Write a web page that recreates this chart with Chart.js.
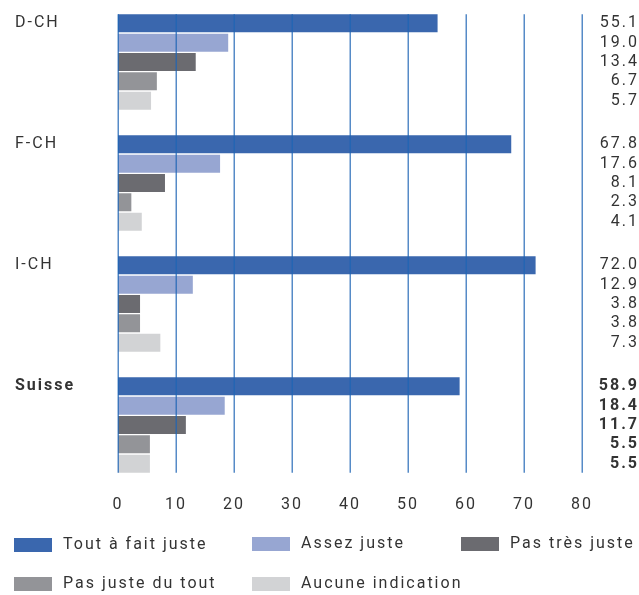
<!DOCTYPE html>
<html>
<head>
<meta charset="utf-8">
<script src="https://cdn.jsdelivr.net/npm/chart.js@4/dist/chart.umd.min.js"></script>
<style>
  html, body { margin: 0; padding: 0; background: #fff; }
  #wrap { position: relative; width: 639px; height: 595px; }
</style>
</head>
<body>
<div id="wrap"><canvas id="c" width="639" height="595"></canvas></div>
<script>
const regions = ["D-CH", "F-CH", "I-CH", "Suisse"];
const seriesNames = ["Tout à fait juste", "Assez juste", "Pas très juste", "Pas juste du tout", "Aucune indication"];
const toutAFait = [55.1, 67.8, 72.0, 58.9];
const assezJuste = [19.0, 17.6, 12.9, 18.4];
const pasTresJuste = [13.4, 8.1, 3.8, 11.7];
const pasJusteDuTout = [6.7, 2.3, 3.8, 5.5];
const aucuneIndication = [5.7, 4.1, 7.3, 5.5];
const xTicks = [0, 10, 20, 30, 40, 50, 60, 70, 80];

const colors = ["#3a67ae", "#97a6d2", "#6b6b70", "#939498", "#d2d3d5"];
const FONT = "Roboto, 'DejaVu Sans', sans-serif";
const TEXT = "#333333";
const SPACING = "2px";
const AXIS_HEIGHT = 40;

const seriesValues = [toutAFait, assezJuste, pasTresJuste, pasJusteDuTout, aucuneIndication];

// grid lines over the bars, group names, value column and legend
const decorations = {
  id: "decorations",
  beforeDraw(chart) {
    // wide tracking for every label, axis ticks included
    chart.ctx.letterSpacing = SPACING;
  },
  afterDatasetsDraw(chart) {
    const ctx = chart.ctx;
    const x = chart.scales.x;
    const first = chart.getDatasetMeta(0).data[0];
    const last = chart.getDatasetMeta(4).data[regions.length - 1];
    const top = first.y - first.height / 2;
    const bottom = last.y + last.height / 2;
    ctx.save();
    ctx.strokeStyle = "rgba(30, 100, 180, 0.75)";
    ctx.lineWidth = 1.5;
    xTicks.forEach(t => {
      const px = Math.round(x.getPixelForValue(t)) + 0.25;
      ctx.beginPath();
      ctx.moveTo(px, top);
      ctx.lineTo(px, bottom);
      ctx.stroke();
    });
    ctx.restore();
  },
  afterDraw(chart) {
    const ctx = chart.ctx;
    ctx.save();
    ctx.fillStyle = TEXT;
    ctx.letterSpacing = SPACING;
    ctx.textBaseline = "middle";

    // region names, aligned with the first bar of each group
    const meta0 = chart.getDatasetMeta(0);
    regions.forEach((r, j) => {
      const bar = meta0.data[j];
      ctx.font = (j === regions.length - 1 ? "bold " : "") + "16px " + FONT;
      ctx.textAlign = "left";
      ctx.fillText(r, 15, bar.y);
    });

    // value column on the right
    ctx.textAlign = "right";
    seriesValues.forEach((vals, i) => {
      const meta = chart.getDatasetMeta(i);
      vals.forEach((v, j) => {
        ctx.font = (j === regions.length - 1 ? "bold " : "") + "16px " + FONT;
        ctx.fillText(v.toFixed(1), 639, meta.data[j].y);
      });
    });

    // legend in two rows
    const slots = [[14, 545], [252, 544], [461, 544], [14, 584], [252, 584]];
    ctx.textAlign = "left";
    ctx.font = "16px " + FONT;
    seriesNames.forEach((name, i) => {
      const [lx, ly] = slots[i];
      ctx.fillStyle = colors[i];
      ctx.fillRect(lx, ly - 7, 38, 14);
      ctx.fillStyle = TEXT;
      ctx.fillText(name, lx + 49, ly);
    });
    ctx.restore();
  }
};

new Chart(document.getElementById("c"), {
  type: "bar",
  data: {
    labels: regions,
    datasets: seriesNames.map((name, i) => ({
      label: name,
      data: seriesValues[i],
      backgroundColor: colors[i],
      borderWidth: 0,
      barPercentage: 0.93,
      categoryPercentage: 0.8
    }))
  },
  options: {
    indexAxis: "y",
    responsive: false,
    animation: false,
    devicePixelRatio: 1,
    layout: { padding: { left: 118, right: 57, top: 1.5, bottom: 595 - 485.5 - AXIS_HEIGHT } },
    scales: {
      x: {
        min: 0,
        max: 80,
        afterFit: s => { s.height = AXIS_HEIGHT; },
        grid: { display: false, drawTicks: false },
        border: { display: false },
        ticks: {
          stepSize: 10,
          autoSkip: false,
          maxRotation: 0,
          padding: 10,
          color: TEXT,
          font: { family: FONT, size: 16 }
        }
      },
      y: { display: false }
    },
    plugins: {
      legend: { display: false },
      tooltip: { enabled: false }
    }
  },
  plugins: [decorations]
});
</script>
</body>
</html>
